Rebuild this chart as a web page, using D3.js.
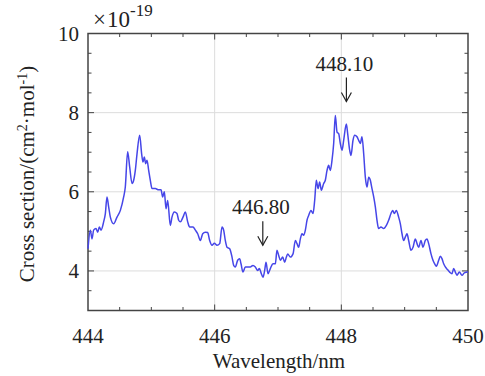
<!DOCTYPE html>
<html>
<head>
<meta charset="utf-8">
<script src="https://d3js.org/d3.v7.min.js"></script>
<style>
  body { margin: 0; padding: 0; background: #fff; }
  svg text { font-family: "Liberation Serif", "Times New Roman", Times, "DejaVu Serif", serif; fill: #222; }
</style>
</head>
<body>
<script>
// spectrum (wavelength in nm, cross section in 1e-19 cm2/mol)
var wavelength = [444.000,444.037,444.063,444.089,444.126,444.153,444.179,444.205,444.247,444.274,
  444.300,444.326,444.353,444.405,444.458,444.511,444.563,444.589,444.626,444.658,
  444.695,444.721,444.747,444.774,444.816,444.847,444.868,444.889,444.911,444.932,
  444.958,444.984,445.011,445.063,445.116,445.153,445.179,445.205,445.232,445.258,
  445.300,445.326,445.363,445.405,445.432,445.458,445.500,445.537,445.574,445.605,
  445.658,445.695,445.732,445.774,445.811,445.853,445.889,445.921,445.958,445.995,
  446.037,446.079,446.116,446.142,446.168,446.195,446.237,446.274,446.300,446.326,
  446.363,446.395,446.416,446.447,446.484,446.521,446.563,446.605,446.642,446.679,
  446.705,446.737,446.763,446.789,446.811,446.842,446.879,446.921,446.958,446.984,
  447.011,447.037,447.074,447.105,447.132,447.153,447.195,447.237,447.274,447.300,
  447.326,447.353,447.379,447.405,447.432,447.458,447.484,447.521,447.553,447.579,
  447.605,447.632,447.658,447.684,447.721,447.747,447.774,447.800,447.826,447.853,
  447.879,447.905,447.932,447.958,447.984,448.011,448.037,448.079,448.100,448.132,
  448.153,448.184,448.211,448.247,448.274,448.300,448.326,448.353,448.379,448.405,
  448.432,448.458,448.484,448.511,448.537,448.563,448.589,448.626,448.668,448.711,
  448.747,448.784,448.811,448.837,448.868,448.905,448.932,448.958,448.984,449.011,
  449.037,449.063,449.100,449.132,449.168,449.195,449.221,449.258,449.289,449.326,
  449.353,449.379,449.416,449.447,449.474,449.500,449.537,449.563,449.589,449.616,
  449.642,449.679,449.711,449.747,449.774,449.800,449.826,449.863,449.905,449.942,
  450.000];
var crossSection = [4.56,5.03,4.81,5.03,5.07,4.98,5.11,5.03,5.24,5.45,
  5.87,5.62,5.36,5.19,5.36,5.53,5.87,6.12,7.01,6.63,
  6.21,6.29,6.54,6.96,7.43,6.96,6.75,6.88,6.71,6.80,
  6.54,6.29,6.08,6.08,6.05,6.05,5.87,6.00,5.57,5.78,
  5.15,5.36,5.49,5.45,5.28,5.24,5.36,5.49,5.24,5.11,
  5.11,5.03,4.94,4.77,4.94,4.98,4.97,4.77,4.65,4.70,
  4.65,4.69,5.11,5.03,4.77,4.60,4.56,4.35,4.14,4.10,
  4.27,4.31,4.18,3.97,4.10,4.10,4.10,4.14,4.10,4.01,
  4.06,3.93,3.84,4.01,4.22,3.93,4.06,4.18,4.18,4.52,
  4.39,4.27,4.35,4.22,4.35,4.43,4.35,4.43,4.77,4.69,
  4.60,4.81,4.94,4.90,5.03,5.28,5.40,5.53,5.45,5.78,
  6.29,6.08,6.25,6.04,6.21,6.29,6.54,6.67,6.54,6.80,
  7.22,7.93,7.51,7.47,7.22,7.05,7.30,7.71,7.47,7.05,
  6.92,7.30,7.43,7.39,7.30,7.22,7.39,6.96,6.37,6.12,
  6.37,6.29,6.08,5.87,5.62,5.28,5.07,5.11,5.07,5.15,
  5.28,5.45,5.53,5.45,5.53,5.36,5.19,4.94,4.77,4.86,
  4.94,4.77,4.52,4.60,4.81,4.69,4.60,4.77,4.60,4.77,
  4.81,4.69,4.43,4.27,4.18,4.12,4.27,4.37,4.31,4.18,
  4.10,4.03,3.97,3.93,4.06,3.97,3.89,3.97,3.89,3.95,
  3.97];

var xTicks = [444, 446, 448, 450];
var yTicks = [4, 6, 8, 10];
var peakLabels = ["446.80", "448.10"];
var peakAt = [446.76, 448.08];
var peakValue = [4.65, 8.28];   // where the arrow tip sits

var w = 485, h = 376;
var margin = {left: 88, right: 17, top: 33.5, bottom: 65.5};
var iw = w - margin.left - margin.right;
var ih = h - margin.top - margin.bottom;
var serif = "'Liberation Serif', 'Times New Roman', Times, 'DejaVu Serif', serif";

var x = d3.scaleLinear().domain([444, 450]).range([0, iw]);
var y = d3.scaleLinear().domain([3, 10]).range([ih, 0]);

var svg = d3.select("body").append("svg")
    .attr("width", w)
    .attr("height", h)
    .attr("font-family", serif);

var g = svg.append("g")
    .attr("transform", "translate(" + margin.left + "," + margin.top + ")");

// grid
g.selectAll(".vgrid")
    .data([446, 448])
    .enter().append("line")
    .attr("x1", d => x(d)).attr("x2", d => x(d))
    .attr("y1", 0).attr("y2", ih)
    .attr("stroke", "#dcdcdc").attr("stroke-width", 1);
g.selectAll(".hgrid")
    .data([4, 6, 8])
    .enter().append("line")
    .attr("y1", d => y(d)).attr("y2", d => y(d))
    .attr("x1", 0).attr("x2", iw)
    .attr("stroke", "#dcdcdc").attr("stroke-width", 1);

// minor + major ticks, inward, on all four sides
var xMinor = d3.range(444.5, 450, 0.5);
var yMinor = d3.range(3.5, 10, 0.5);
function tickLen(d) { return Math.abs(d - Math.round(d)) < 1e-6 && Math.round(d) % 2 == 0 ? 6 : 3.5; }

var tk = g.append("g").attr("stroke", "#444").attr("stroke-width", 1);
xMinor.forEach(function(d) {
  tk.append("line").attr("x1", x(d)).attr("x2", x(d)).attr("y1", ih).attr("y2", ih - tickLen(d));
  tk.append("line").attr("x1", x(d)).attr("x2", x(d)).attr("y1", 0).attr("y2", tickLen(d));
});
yMinor.forEach(function(d) {
  tk.append("line").attr("y1", y(d)).attr("y2", y(d)).attr("x1", 0).attr("x2", tickLen(d));
  tk.append("line").attr("y1", y(d)).attr("y2", y(d)).attr("x1", iw).attr("x2", iw - tickLen(d));
});

// frame
g.append("rect")
    .attr("width", iw).attr("height", ih)
    .attr("fill", "none")
    .attr("stroke", "#444").attr("stroke-width", 1.5);

// tick labels
g.selectAll(".xlab")
    .data(xTicks)
    .enter().append("text")
    .attr("x", d => x(d))
    .attr("y", ih + 32)
    .attr("text-anchor", "middle")
    .attr("font-size", 21)
    .text(d => d);
g.selectAll(".ylab")
    .data(yTicks)
    .enter().append("text")
    .attr("x", -9)
    .attr("y", d => y(d) + 7)
    .attr("text-anchor", "end")
    .attr("font-size", 21)
    .text(d => d);

// exponent
var ex = svg.append("text")
    .attr("x", 93).attr("y", 27)
    .attr("font-size", 23);
ex.append("tspan").text("\u00d7");
ex.append("tspan").attr("dx", 1).text("10");
ex.append("tspan").attr("dy", -11).attr("font-size", 17).text("-19");

// axis titles
svg.append("text")
    .attr("x", margin.left + iw / 2 + 1)
    .attr("y", 368)
    .attr("text-anchor", "middle")
    .attr("font-size", 21)
    .text("Wavelength/nm");

var yt = svg.append("text")
    .attr("transform", "translate(34," + (margin.top + ih / 2 + 2) + ") rotate(-90)")
    .attr("text-anchor", "middle")
    .attr("font-size", 21);
yt.append("tspan").text("Cross section/(cm");
yt.append("tspan").attr("dy", -7).attr("font-size", 14).text("2");
yt.append("tspan").attr("dy", 7).text("\u00b7mol");
yt.append("tspan").attr("dy", -7).attr("font-size", 14).text("-1");
yt.append("tspan").attr("dy", 7).text(")");

// spectrum
var line = d3.line()
    .x((d, i) => x(wavelength[i]))
    .y(d => y(d))
    .curve(d3.curveMonotoneX);
g.append("path")
    .datum(crossSection)
    .attr("d", line)
    .attr("fill", "none")
    .attr("stroke", "#4646e8")
    .attr("stroke-width", 1.5)
    .attr("stroke-linejoin", "round");

// peak annotations
peakAt.forEach(function(p, i) {
  var px = x(p), tip = y(peakValue[i]);
  g.append("line")
      .attr("x1", px).attr("x2", px)
      .attr("y1", tip - 24).attr("y2", tip)
      .attr("stroke", "#222").attr("stroke-width", 1.2);
  g.append("path")
      .attr("d", "M" + (px - 5) + "," + (tip - 9) + "L" + px + "," + tip + "L" + (px + 5) + "," + (tip - 9))
      .attr("fill", "none").attr("stroke", "#222").attr("stroke-width", 1.2);
  g.append("text")
      .attr("x", px - 2)
      .attr("y", tip - 31)
      .attr("text-anchor", "middle")
      .attr("font-size", 21)
      .text(peakLabels[i]);
});
</script>
</body>
</html>
